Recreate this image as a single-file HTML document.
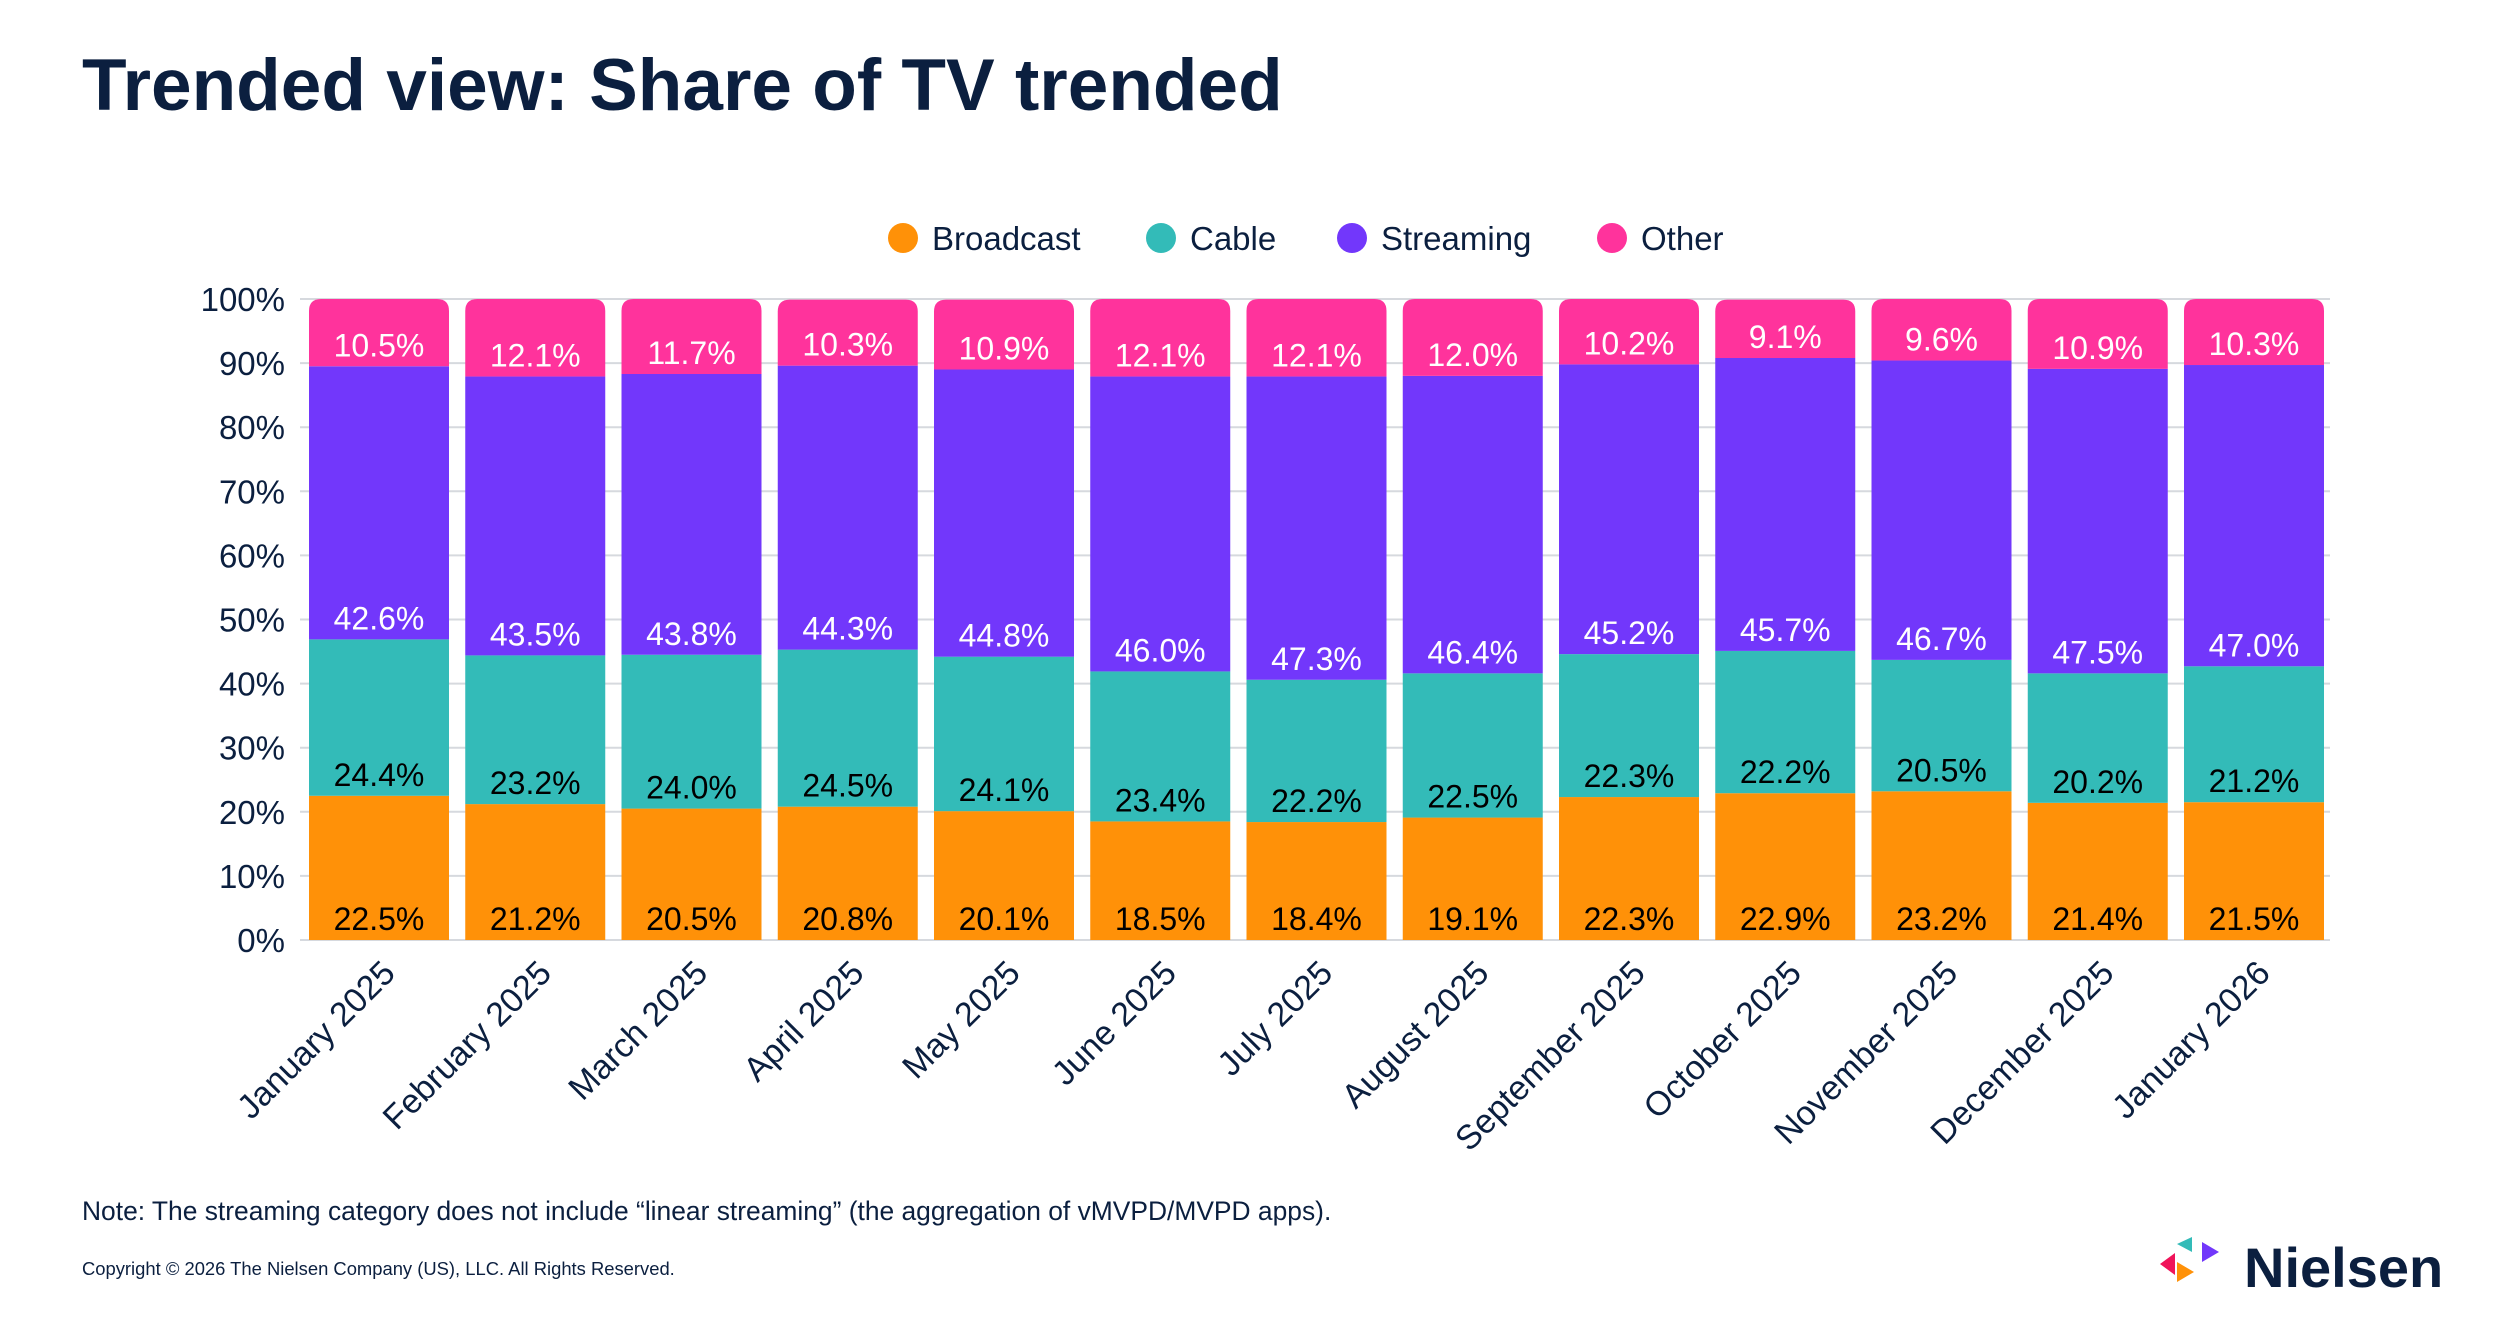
<!DOCTYPE html>
<html><head><meta charset="utf-8"><style>
html,body{margin:0;padding:0;background:#fff;}
body{width:2500px;height:1320px;overflow:hidden;font-family:"Liberation Sans",sans-serif;}
text{font-family:"Liberation Sans",sans-serif;}
</style></head><body>
<svg id="chart" width="2500" height="1320" viewBox="0 0 2500 1320">
<text x="82" y="110" font-size="73" font-weight="bold" fill="#0B1F3F">Trended view: Share of TV trended</text>
<g id="legend"></g>
<g id="grid"></g>
<g id="yaxis"></g>
<g id="bars"></g>
<g id="xaxis"></g>
<text x="82" y="1220" font-size="26.4" fill="#0B1F3F">Note: The streaming category does not include “linear streaming” (the aggregation of vMVPD/MVPD apps).</text>
<text x="82" y="1275" font-size="18.4" fill="#0B1F3F">Copyright © 2026 The Nielsen Company (US), LLC. All Rights Reserved.</text>
<g transform="translate(-8,-6)">
<polygon points="2168,1270 2183,1259 2183,1281" fill="#F0145A"/>
<polygon points="2185,1250 2200,1243 2200,1258" fill="#33BBB8"/>
<polygon points="2210,1248 2227,1258 2210,1268" fill="#7237FB"/>
<polygon points="2185,1268 2202,1278 2185,1288" fill="#FF9108"/>
<text x="2252" y="1293" font-size="56" font-weight="bold" fill="#0B1F3F">Nielsen</text>
</g>
</svg>
<script>
const categories=["January 2025","February 2025","March 2025","April 2025","May 2025","June 2025","July 2025","August 2025","September 2025","October 2025","November 2025","December 2025","January 2026"];
const broadcast=[22.5,21.2,20.5,20.8,20.1,18.5,18.4,19.1,22.3,22.9,23.2,21.4,21.5];
const cable=[24.4,23.2,24.0,24.5,24.1,23.4,22.2,22.5,22.3,22.2,20.5,20.2,21.2];
const streaming=[42.6,43.5,43.8,44.3,44.8,46.0,47.3,46.4,45.2,45.7,46.7,47.5,47.0];
const other=[10.5,12.1,11.7,10.3,10.9,12.1,12.1,12.0,10.2,9.1,9.6,10.9,10.3];
const seriesNames=["Broadcast","Cable","Streaming","Other"];
const yTicks=[0,10,20,30,40,50,60,70,80,90,100];

const NS="http://www.w3.org/2000/svg";
const colors=["#FF9108","#33BBB8","#7237FB","#FF339C"];
const labelColors=["#000","#000","#fff","#fff"];
const series=[broadcast,cable,streaming,other];
const X0=309,PITCH=156.25,BW=140,Y0=940,Y100=299;
function y(v){return Y0-(Y0-Y100)*v/100;}
function x(i){return X0+i*PITCH;}
function mk(tag,attrs,parent){const e=document.createElementNS(NS,tag);for(const k in attrs)e.setAttribute(k,attrs[k]);parent.appendChild(e);return e;}

const legend=document.getElementById('legend');
const lx=[903,1161,1352,1612];
seriesNames.forEach((n,i)=>{
  const c=mk('circle',{cx:lx[i],cy:238,r:15,fill:colors[i]},legend);
  
  
  const t=mk('text',{x:lx[i]+29,y:250,'font-size':33,fill:'#0B1F3F'},legend);
  t.textContent=n;
  
  
});

const grid=document.getElementById('grid'),yaxis=document.getElementById('yaxis');
yTicks.forEach(v=>{
  const l=mk('line',{x1:300,x2:2330,y1:y(v),y2:y(v),stroke:'#D6D9DE','stroke-width':2},grid);
  
  
  const t=mk('text',{x:285,y:y(v)+12,'font-size':33,fill:'#0B1F3F','text-anchor':'end'},yaxis);
  t.textContent=v+'%';
  
  
});

const bars=document.getElementById('bars'),xaxis=document.getElementById('xaxis');
categories.forEach((c,i)=>{
  let base=0;
  const g=mk('g',{},bars);
  
  
  series.forEach((s,k)=>{
    const v=s[i],top=base+v;
    const yb=y(base),yt=y(top),x1=x(i),x2=x(i)+BW;
    let seg;
    if(k===3){
      const r=12;
      seg=mk('path',{d:`M${x1},${yb} L${x1},${yt+r} Q${x1},${yt} ${x1+r},${yt} L${x2-r},${yt} Q${x2},${yt} ${x2},${yt+r} L${x2},${yb} Z`,fill:colors[k]},g);
    }else{
      seg=mk('rect',{x:x1,y:yt,width:BW,height:yb-yt,fill:colors[k]},g);
    }
    
    
    const t=mk('text',{x:x1+BW/2,y:yb-10,'font-size':32,fill:labelColors[k],'text-anchor':'middle'},g);
    t.textContent=v.toFixed(1)+'%';
    
    
    base=top;
  });
  const cx=x(i)+BW/2+18,cy=975;
  const t=mk('text',{x:cx,y:cy,'font-size':34,fill:'#0B1F3F','text-anchor':'end',transform:`rotate(-45 ${cx} ${cy})`},xaxis);
  t.textContent=c;
  
  
});
</script>
</body></html>
